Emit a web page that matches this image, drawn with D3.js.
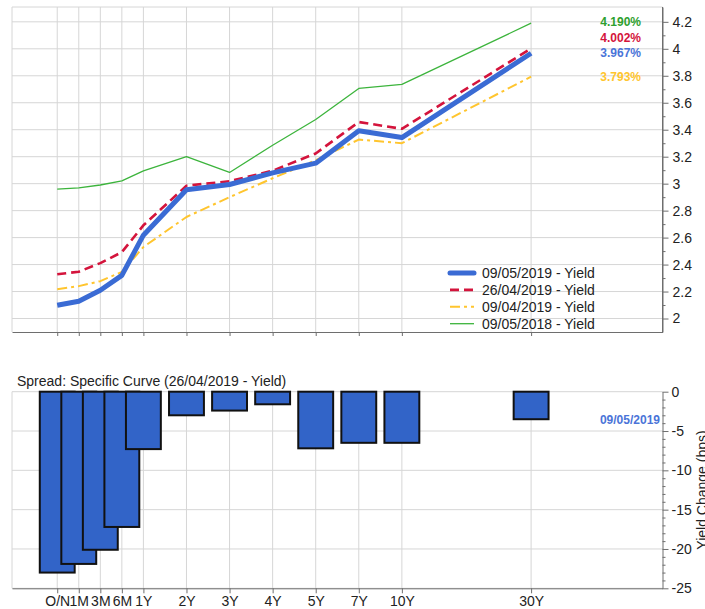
<!DOCTYPE html>
<html>
<head>
<meta charset="utf-8">
<script src="https://cdn.jsdelivr.net/npm/d3@7/dist/d3.min.js"></script>
<style>
  body { margin: 0; background: #fff; }
  svg { display: block; font-family: "Liberation Sans", Arial, sans-serif; }
</style>
</head>
<body>
<svg id="chart" width="705" height="609"></svg>
<script>
// --- data ---
const tenors = ["O/N", "1M", "3M", "6M", "1Y", "2Y", "3Y", "4Y", "5Y", "7Y", "10Y", "30Y"];
const yield20190509 = [2.098, 2.128, 2.210, 2.320, 2.618, 2.955, 2.994, 3.080, 3.152, 3.392, 3.342, 3.967];
const yield20190426 = [2.328, 2.347, 2.411, 2.492, 2.691, 2.985, 3.018, 3.096, 3.224, 3.457, 3.407, 4.002];
const yield20190409 = [2.217, 2.240, 2.277, 2.346, 2.530, 2.753, 2.900, 3.040, 3.174, 3.327, 3.300, 3.793];
const yield20180509 = [2.959, 2.969, 2.990, 3.020, 3.095, 3.200, 3.083, 3.285, 3.476, 3.706, 3.736, 4.190];
const spreadBps = [-23.0, -21.9, -20.1, -17.2, -7.3, -3.0, -2.4, -1.6, -7.2, -6.5, -6.5, -3.5];

const yieldTicks = [2.0, 2.2, 2.4, 2.6, 2.8, 3.0, 3.2, 3.4, 3.6, 3.8, 4.0, 4.2];
const yieldMinorTicks = [2.1, 2.3, 2.5, 2.7, 2.9, 3.1, 3.3, 3.5, 3.7, 3.9, 4.1];
const spreadTicks = [-25, -20, -15, -10, -5, 0];
const spreadMinorTicks = d3.range(-24, 0).filter(d => d % 5 !== 0);

const spreadTitle = "Spread: Specific Curve (26/04/2019 - Yield)";
const spreadSeriesName = "09/05/2019";
const spreadAxisTitle = "Yield Change (bps)";

const series = [
  { name: "09/05/2018 - Yield", values: yield20180509, key: "green" },
  { name: "09/04/2019 - Yield", values: yield20190409, key: "yellow" },
  { name: "26/04/2019 - Yield", values: yield20190426, key: "red" },
  { name: "09/05/2019 - Yield", values: yield20190509, key: "blue" }
];
const legendOrder = ["blue", "red", "yellow", "green"];

// --- styles / layout ---
const styles = {
  blue:   { color: "#3a6bd4", label: "#4a74d8", width: 5,   dash: null },
  red:    { color: "#d4143c", label: "#d4143c", width: 2.6, dash: "9,5" },
  yellow: { color: "#ffc52e", label: "#ffc52e", width: 2,   dash: "10,4,3,4" },
  green:  { color: "#3cb43c", label: "#2ea02e", width: 1.3, dash: null }
};
const gridColor = "#d6d6d6";
const axisColor = "#6e6e6e";
const textColor = "#222";

// short end of the curve is drawn at half spacing, 30Y three slots after 10Y
const tenorSlot = [0, 0.5, 1, 1.5, 2, 3, 4, 5, 6, 7, 8, 11];
const plotLeft = 12, plotRight = 662.5;

const svg = d3.select("#chart");
const x = d3.scaleLinear().domain([-1.05, 14.05]).range([plotLeft, plotRight]);
const xAt = i => x(tenorSlot[i]);

function styleAxis(g) {
  g.select(".domain").attr("stroke", axisColor);
  g.selectAll(".tick line").attr("stroke", axisColor);
  g.selectAll(".tick text").attr("fill", textColor).attr("font-size", 14)
    .attr("font-family", '"Liberation Sans", Arial, sans-serif');
}

// ================= top chart: yield curves =================
const topY0 = 7, topY1 = 332;
const yTop = d3.scaleLinear().domain([1.9, 4.31]).range([topY1, topY0]);
const curveChart = svg.append("g");

const topGrid = curveChart.append("g");
topGrid.selectAll("line.h").data(yieldTicks).join("line")
  .attr("x1", plotLeft).attr("x2", plotRight)
  .attr("y1", d => yTop(d)).attr("y2", d => yTop(d))
  .attr("stroke", gridColor);
topGrid.selectAll("line.v").data(tenors).join("line").attr("class", "v")
  .attr("x1", (d, i) => xAt(i)).attr("x2", (d, i) => xAt(i))
  .attr("y1", topY0).attr("y2", topY1)
  .attr("stroke", gridColor);
topGrid.append("line").attr("x1", plotLeft).attr("x2", plotRight).attr("y1", topY0).attr("y2", topY0).attr("stroke", gridColor);
topGrid.append("line").attr("x1", plotLeft).attr("x2", plotLeft).attr("y1", topY0).attr("y2", topY1).attr("stroke", gridColor);

const line = d3.line().x((d, i) => xAt(i)).y(d => yTop(d));
curveChart.append("g").selectAll("path").data(series).join("path")
  .attr("fill", "none")
  .attr("stroke", d => styles[d.key].color)
  .attr("stroke-width", d => styles[d.key].width)
  .attr("stroke-dasharray", d => styles[d.key].dash)
  .attr("stroke-linejoin", "round")
  .attr("d", d => line(d.values));

curveChart.append("g").attr("transform", `translate(0,${topY1})`)
  .call(d3.axisBottom(x).tickValues(tenorSlot).tickSize(4).tickSizeOuter(0).tickFormat(""))
  .call(styleAxis);
curveChart.append("g").attr("transform", `translate(${plotRight},0)`)
  .call(d3.axisRight(yTop).tickValues(yieldMinorTicks).tickSize(3).tickSizeOuter(0).tickFormat(""))
  .call(styleAxis).select(".domain").remove();
curveChart.append("g").attr("transform", `translate(${plotRight},0)`)
  .call(d3.axisRight(yTop).tickValues(yieldTicks).tickSize(6).tickPadding(4).tickSizeOuter(0)
    .tickFormat(d => String(+d.toFixed(1))))
  .call(styleAxis);
curveChart.append("line").attr("x1", plotRight).attr("x2", plotRight).attr("y1", topY0).attr("y2", topY1).attr("stroke", axisColor);

// last-value labels, pushed up when they would overlap
const endLabels = series.map(s => ({ key: s.key, v: s.values[s.values.length - 1] }))
  .sort((a, b) => a.v - b.v);
let prevY = Infinity;
endLabels.forEach(d => {
  d.y = Math.min(yTop(d.v), prevY - 15.8);
  prevY = d.y;
});
curveChart.append("g").selectAll("text").data(endLabels).join("text")
  .attr("x", 641).attr("y", d => d.y).attr("dy", "0.35em")
  .attr("text-anchor", "end").attr("font-size", 12).attr("font-weight", "bold")
  .attr("fill", d => styles[d.key].label)
  .text(d => d3.format(".3f")(d.v) + "%");

// legend
const legend = curveChart.append("g").attr("transform", "translate(450,273)");
const legendRows = legend.selectAll("g").data(legendOrder.map(k => series.find(s => s.key === k))).join("g")
  .attr("transform", (d, i) => `translate(0,${i * 16.9})`);
legendRows.append("line").attr("x1", 0).attr("x2", 24)
  .attr("stroke", d => styles[d.key].color)
  .attr("stroke-width", d => styles[d.key].width)
  .attr("stroke-dasharray", d => styles[d.key].dash)
  .attr("stroke-linecap", d => d.key === "blue" ? "round" : "butt");
legendRows.append("text").attr("x", 32).attr("dy", "0.35em")
  .attr("font-size", 14).attr("fill", textColor).text(d => d.name);

// ================= bottom chart: spread bars =================
const botY0 = 391.7, botY1 = 588.3;
const yBot = d3.scaleLinear().domain([-25, 0]).range([botY1, botY0]);
const spreadChart = svg.append("g");

spreadChart.append("text").attr("x", 17).attr("y", 386)
  .attr("font-size", 14).attr("fill", textColor).text(spreadTitle);

const botGrid = spreadChart.append("g");
botGrid.selectAll("line.h").data(spreadTicks).join("line")
  .attr("x1", plotLeft).attr("x2", plotRight)
  .attr("y1", d => yBot(d)).attr("y2", d => yBot(d))
  .attr("stroke", gridColor);
botGrid.selectAll("line.v").data(tenors).join("line").attr("class", "v")
  .attr("x1", (d, i) => xAt(i)).attr("x2", (d, i) => xAt(i))
  .attr("y1", botY0).attr("y2", botY1)
  .attr("stroke", gridColor);
botGrid.append("line").attr("x1", plotLeft).attr("x2", plotLeft).attr("y1", botY0).attr("y2", botY1).attr("stroke", gridColor);

const barWidth = x(0.81) - x(0);
spreadChart.append("g").selectAll("rect").data(spreadBps).join("rect")
  .attr("x", (d, i) => xAt(i) - barWidth / 2)
  .attr("y", d => yBot(Math.max(0, d)))
  .attr("width", barWidth)
  .attr("height", d => Math.abs(yBot(d) - yBot(0)))
  .attr("fill", "#3264c8").attr("stroke", "#111").attr("stroke-width", 2);

spreadChart.append("g").attr("transform", `translate(0,${botY1})`)
  .call(d3.axisBottom(x).tickValues(tenorSlot).tickSize(5).tickPadding(3).tickSizeOuter(0)
    .tickFormat((d, i) => tenors[i]))
  .call(styleAxis);
spreadChart.append("g").attr("transform", `translate(${plotRight},0)`)
  .call(d3.axisRight(yBot).tickValues(spreadMinorTicks).tickSize(3).tickSizeOuter(0).tickFormat(""))
  .call(styleAxis).select(".domain").remove();
spreadChart.append("g").attr("transform", `translate(${plotRight},0)`)
  .call(d3.axisRight(yBot).tickValues(spreadTicks).tickSize(6).tickPadding(3).tickSizeOuter(0)
    .tickFormat(d => String(d)))
  .call(styleAxis);

const lastSpread = spreadBps[spreadBps.length - 1];
spreadChart.append("text").attr("x", 660).attr("y", yBot(lastSpread) + 1).attr("dy", "0.35em")
  .attr("text-anchor", "end").attr("font-size", 12).attr("font-weight", "bold")
  .attr("fill", styles.blue.label).text(spreadSeriesName);

spreadChart.append("text")
  .attr("transform", `translate(707,${(botY0 + botY1) / 2}) rotate(-90)`)
  .attr("text-anchor", "middle").attr("font-size", 14).attr("fill", textColor)
  .text(spreadAxisTitle);
</script>
</body>
</html>
